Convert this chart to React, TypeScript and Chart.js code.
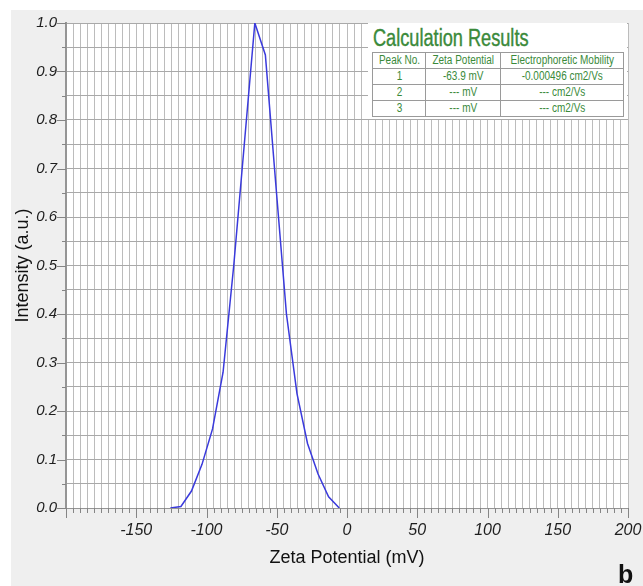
import React, { useEffect, useRef } from 'react';
import { Chart, registerables } from 'chart.js';

Chart.register(...registerables);

// ---- data ----
const zetaPotential = [-125.7, -118.2, -110.7, -103.2, -95.7, -88.2, -80.6, -73.1, -65.6, -58.1, -50.6, -43.1, -35.6, -28.1, -20.6, -13.1, -5.5];
const intensity = [0.0, 0.003, 0.035, 0.09, 0.163, 0.28, 0.5, 0.75, 1.0, 0.934, 0.665, 0.4, 0.236, 0.133, 0.07, 0.023, 0.0];

const xMin = -200;
const xMax = 200;
const xStep = 5;
const xLabelStep = 50;
const yMin = 0;
const yMax = 1;
const yStep = 0.05;
const yLabelStep = 0.1;

const xTitle = 'Zeta Potential (mV)';
const yTitle = 'Intensity (a.u.)';
const panelLabel = 'b';

const tableTitle = 'Calculation Results';
const tableHeaders = ['Peak No.', 'Zeta Potential', 'Electrophoretic Mobility'];
const peakNumbers = ['1', '2', '3'];
const zetaResults = ['-63.9 mV', '--- mV', '--- mV'];
const mobilityResults = ['-0.000496 cm2/Vs', '--- cm2/Vs', '--- cm2/Vs'];

const FONT = "'Liberation Sans', Arial, sans-serif";
const GREEN = '#3a8a3a';

const isMultiple = (v: number, step: number) => Math.abs(v / step - Math.round(v / step)) < 1e-6;

const decorPlugin = {
  id: 'decor',
  beforeDraw(chart: any) {
    const { ctx, chartArea: a } = chart;
    ctx.save();
    ctx.fillStyle = '#efefef';
    ctx.fillRect(11, 10, chart.width - 11, chart.height - 10);
    ctx.fillStyle = '#ffffff';
    ctx.fillRect(a.left, a.top, a.right - a.left, a.bottom - a.top);
    ctx.restore();
  },
  afterDraw(chart: any) {
    const { ctx, chartArea: a, scales } = chart;
    const xs = scales.x;
    const ys = scales.y;
    ctx.save();
    ctx.strokeStyle = '#858585';
    ctx.lineWidth = 1;
    ys.ticks.forEach((t: any) => {
      const y = Math.round(ys.getPixelForValue(t.value)) + 0.5;
      const len = isMultiple(t.value, yLabelStep) ? 9 : 4;
      ctx.beginPath();
      ctx.moveTo(a.left - len, y);
      ctx.lineTo(a.left, y);
      ctx.stroke();
    });
    xs.ticks.forEach((t: any) => {
      const x = Math.round(xs.getPixelForValue(t.value)) + 0.5;
      const len = isMultiple(t.value, xLabelStep) ? 10 : 5;
      ctx.beginPath();
      ctx.moveTo(x, a.bottom);
      ctx.lineTo(x, a.bottom + len);
      ctx.stroke();
    });
    ctx.restore();
  },
};

function ResultsTable() {
  const rows = peakNumbers.map((p, i) => [p, zetaResults[i], mobilityResults[i]]);
  const colWidths = [53, 75, 123];
  const cell = (text: string, key: number) => (
    <td
      key={key}
      style={{
        border: '1px solid #9a9a9a',
        padding: 0,
        height: 15,
        color: GREEN,
        fontFamily: FONT,
        fontSize: 12.5,
        lineHeight: '15px',
        overflow: 'visible',
      }}
    >
      <div
        style={{
          width: '125%',
          marginLeft: '-12.5%',
          transform: 'scaleX(0.8)',
          textAlign: 'center',
          whiteSpace: 'nowrap',
        }}
      >
        {text}
      </div>
    </td>
  );
  return (
    <>
      <div
        style={{
          position: 'absolute',
          left: 368,
          top: 23,
          width: 259,
          height: 96,
          background: '#ffffff',
        }}
      />
      <div
        style={{
          position: 'absolute',
          left: 373,
          top: 27,
          fontFamily: FONT,
          fontSize: 23,
          lineHeight: 1,
          color: GREEN,
          whiteSpace: 'nowrap',
          transform: 'scaleX(0.79)',
          transformOrigin: 'left top',
          WebkitTextStroke: '0.4px ' + GREEN,
        }}
      >
        {tableTitle}
      </div>
      <table
        style={{
          position: 'absolute',
          left: 372,
          top: 52,
          borderCollapse: 'collapse',
          tableLayout: 'fixed',
          width: colWidths.reduce((s, w) => s + w, 0),
        }}
      >
        <colgroup>
          {colWidths.map((w, i) => (
            <col key={i} style={{ width: w }} />
          ))}
        </colgroup>
        <tbody>
          <tr>{tableHeaders.map((h, i) => cell(h, i))}</tr>
          {rows.map((r, ri) => (
            <tr key={ri}>{r.map((c, ci) => cell(c, ci))}</tr>
          ))}
        </tbody>
      </table>
    </>
  );
}

export default function App() {
  const canvasRef = useRef<HTMLCanvasElement | null>(null);

  useEffect(() => {
    if (!canvasRef.current) return;
    const points = zetaPotential.map((x, i) => ({ x, y: intensity[i] }));
    const chart = new Chart(canvasRef.current, {
      type: 'line',
      data: {
        datasets: [
          {
            data: points,
            borderColor: '#3a3adc',
            borderWidth: 1.5,
            pointRadius: 0,
            tension: 0,
            fill: false,
          },
        ],
      },
      options: {
        responsive: false,
        animation: false,
        layout: { padding: { top: 23, right: 15, left: 0, bottom: 0 } },
        plugins: { legend: { display: false }, tooltip: { enabled: false } },
        scales: {
          x: {
            type: 'linear',
            min: xMin,
            max: xMax,
            ticks: {
              stepSize: xStep,
              autoSkip: false,
              maxRotation: 0,
              minRotation: 0,
              padding: 13,
              color: '#1e1e1e',
              font: { family: FONT, size: 16, style: 'italic' },
              callback: (v: any) => (isMultiple(v, xLabelStep) && v !== xMin ? String(Math.round(v)) : ''),
            },
            grid: { color: '#bcbcbc', lineWidth: 1, drawTicks: false },
            border: { color: '#959595', width: 1 },
            title: {
              display: true,
              text: xTitle,
              color: '#111111',
              font: { family: FONT, size: 18 },
              padding: { top: 0, bottom: 17.5 },
            },
            afterFit: (s: any) => {
              s.height = 78;
              s.paddingLeft = 0;
              s.paddingRight = 0;
            },
          },
          y: {
            type: 'linear',
            min: yMin,
            max: yMax,
            ticks: {
              stepSize: yStep,
              autoSkip: false,
              padding: 9,
              color: '#1e1e1e',
              font: { family: FONT, size: 15, style: 'italic' },
              callback: (v: any) => (isMultiple(v, yLabelStep) ? Number(v).toFixed(1) : ''),
            },
            grid: { color: '#a9a9a9', lineWidth: 1, drawTicks: false },
            border: { color: '#959595', width: 2 },
            title: {
              display: true,
              text: yTitle,
              color: '#111111',
              font: { family: FONT, size: 18 },
              padding: { top: 12.7, bottom: 0 },
            },
            afterFit: (s: any) => {
              s.width = 66;
              s.paddingTop = 0;
              s.paddingBottom = 0;
            },
          },
        },
      },
      plugins: [decorPlugin],
    } as any);
    return () => chart.destroy();
  }, []);

  return (
    <div style={{ position: 'absolute', left: 0, top: 0, width: 643, height: 586, background: '#ffffff' }}>
      <canvas ref={canvasRef} width={643} height={586} style={{ display: 'block', width: 643, height: 586 }} />
      <ResultsTable />
      <div
        style={{
          position: 'absolute',
          left: 618,
          top: 562,
          fontFamily: FONT,
          fontWeight: 'bold',
          fontSize: 25,
          lineHeight: 1,
          color: '#111111',
        }}
      >
        {panelLabel}
      </div>
    </div>
  );
}
